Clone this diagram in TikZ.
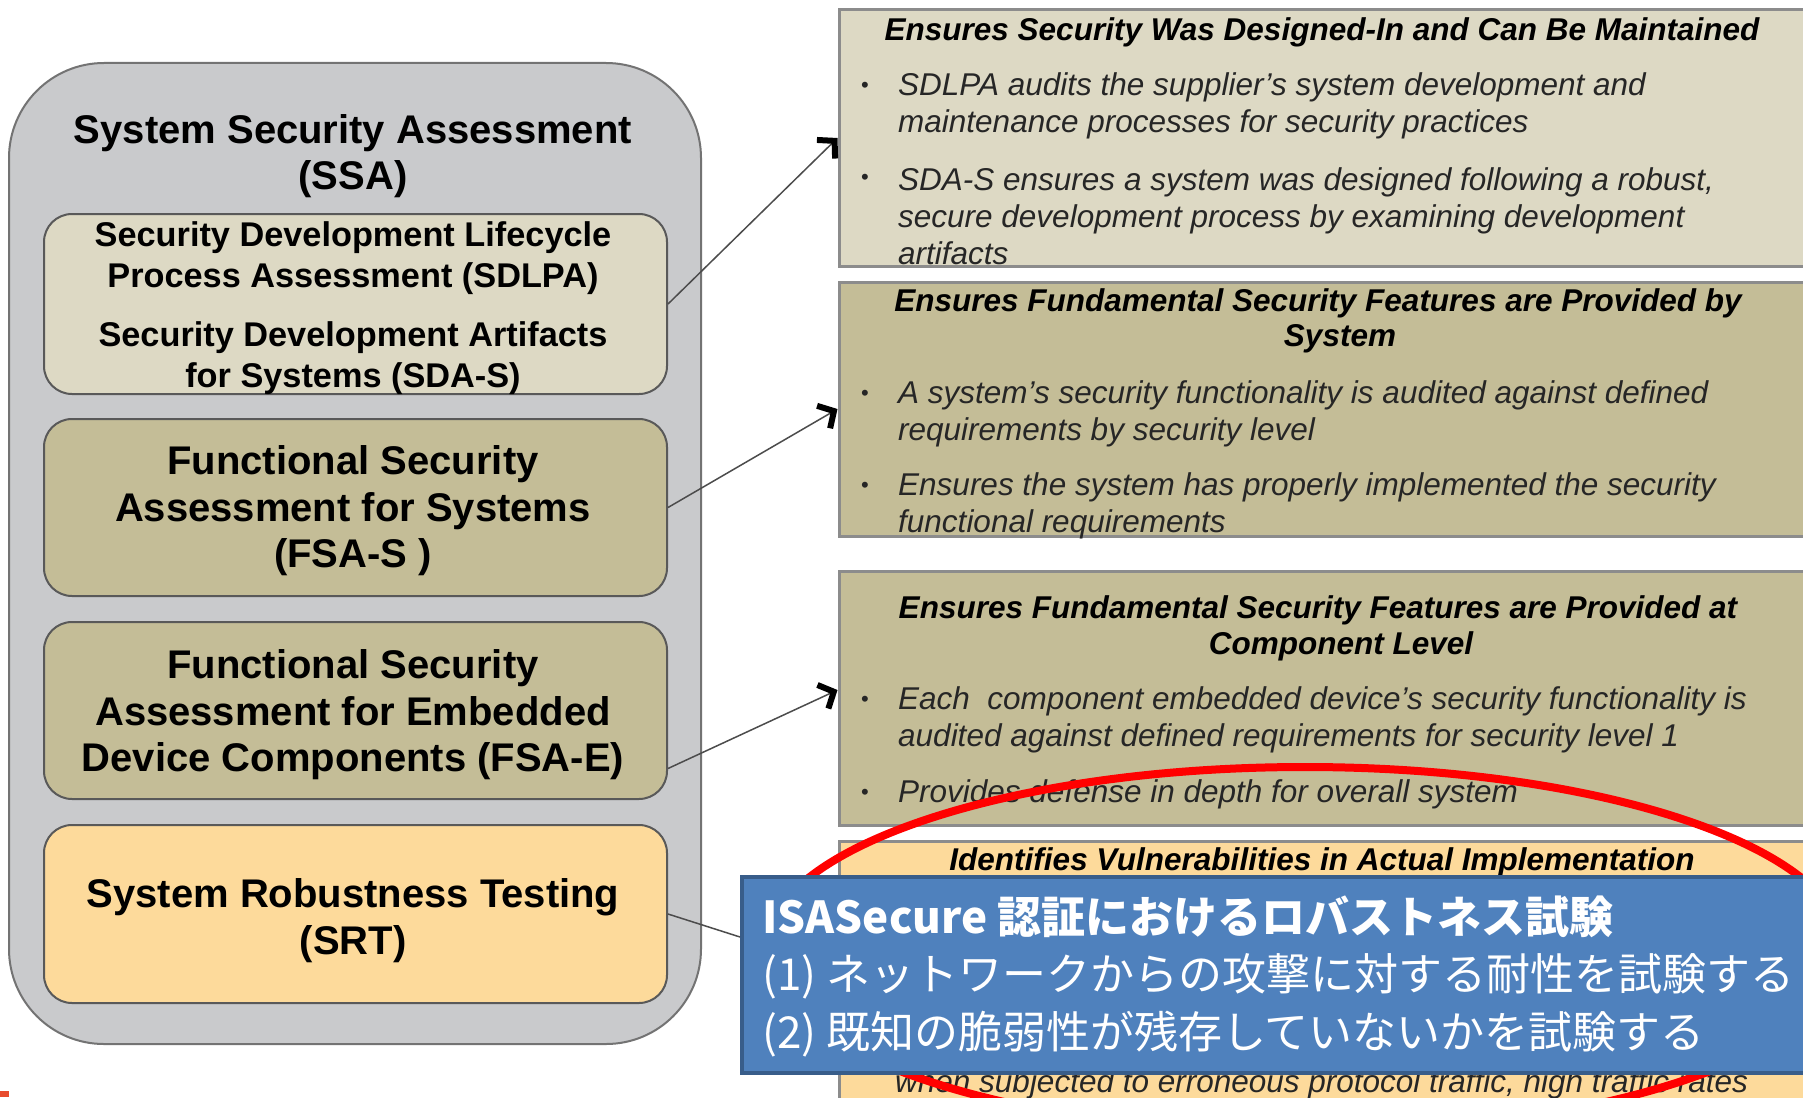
\documentclass[tikz,border=0pt]{standalone}
\usepackage{fontspec}
\setmainfont{Liberation Sans}
\newfontfamily\cjk{Noto Sans CJK JP}
\usetikzlibrary{arrows.meta}
\definecolor{ssagray}{HTML}{C9CACC}
\definecolor{lightkhaki}{HTML}{DDD9C4}
\definecolor{khaki}{HTML}{C4BD97}
\definecolor{peach}{HTML}{FDDA9B}
\definecolor{bluefill}{HTML}{4F81BD}
\definecolor{blueline}{HTML}{385D8A}
\definecolor{cornerred}{HTML}{E84C2E}
\begin{document}
\begin{tikzpicture}[x=1pt,y=-1pt,
  lbox/.style={draw=black!65, line width=2pt, rounded corners=28pt, minimum width=623pt},
  ltext/.style={align=center, font=\bfseries\fontsize{40}{46.5}\selectfont},
  rbox/.style={draw=black!45, line width=3pt, minimum width=976pt},
  rtitle/.style={font=\bfseries\itshape\fontsize{31.5}{36}\selectfont, inner sep=0pt},
  rbody/.style={font=\itshape\fontsize{31.5}{37}\selectfont, text=black!85, align=left, anchor=west, inner sep=0pt},
  bul/.style={font=\fontsize{22}{22}\selectfont, text=black!85, inner sep=0pt},
  conn/.style={draw=black!70, line width=1.5pt},
  arr/.style={conn, -{Straight Barb[length=12pt,width=26pt,line width=6pt,color=black]}}
]
\useasboundingbox (0,0) rectangle (1803,1097);
\clip (0,0) rectangle (1803,1097);
\fill[white] (0,0) rectangle (1803,1097);

% left outer container
\node[draw=black!55, line width=2pt, fill=ssagray, rounded corners=95pt,
  minimum width=692pt, minimum height=981pt] (ssa) at (355,553.5) {};
\node[font=\bfseries\fontsize{40}{46}\selectfont, align=center] (ssatitle) at (353,156.5)
  {System Security Assessment\\(SSA)};

\node[lbox, fill=lightkhaki, minimum height=180pt] (sdlpa) at (355.5,304) {};
\node[font=\bfseries\fontsize{34.3}{41}\selectfont, align=center] (sdlpatext) at (353,258.5)
  {Security Development Lifecycle\\Process Assessment (SDLPA)};
\node[font=\bfseries\fontsize{34.3}{41}\selectfont, align=center] (sdastext) at (353,358.5)
  {Security Development Artifacts\\for Systems (SDA-S)};

\node[lbox, fill=khaki, minimum height=177pt] (fsas) at (355.5,507.5) {};
\node[ltext] (fsastext) at (353,511)
  {Functional Security\\Assessment for Systems\\(FSA-S )};
\node[lbox, fill=khaki, minimum height=177pt] (fsae) at (355.5,710.5) {};
\node[ltext] (fsaetext) at (353,715)
  {Functional Security\\Assessment for Embedded\\Device Components (FSA-E)};
\node[lbox, fill=peach, minimum height=178pt] (srt) at (355.5,914) {};
\node[ltext] (srttext) at (353,920.5)
  {System Robustness Testing\\(SRT)};

% right boxes
\node[rbox, fill=lightkhaki, minimum height=256pt] (b1) at (1327,138) {};
\node[rtitle] (b1t) at (1322,32) {Ensures Security Was Designed-In and Can Be Maintained};
\node[bul] (b1d1) at (865,87) {•};
\node[rbody] (b1a) at (898,105.5) {SDLPA audits the supplier’s system development and\\maintenance processes for security practices};
\node[bul] (b1d2) at (865,179) {•};
\node[rbody] (b1b) at (898,216.5) {SDA-S ensures a system was designed following a robust,\\secure development process by examining development\\artifacts};

\node[rbox, fill=khaki, minimum height=254pt] (b2) at (1327,409) {};
\node[rtitle] (b2t1) at (1318,303) {Ensures Fundamental Security Features are Provided by};
\node[rtitle] (b2t2) at (1340,339) {System};
\node[bul] (b2d1) at (865,395) {•};
\node[rbody] (b2a) at (898,413.5) {A system’s security functionality is audited against defined\\requirements by security level};
\node[bul] (b2d2) at (865,487) {•};
\node[rbody] (b2b) at (898,506) {Ensures the system has properly implemented the security\\functional requirements};

\node[rbox, fill=khaki, minimum height=254pt] (b3) at (1327,698) {};
\node[rtitle] (b3t1) at (1318,610) {Ensures Fundamental Security Features are Provided at};
\node[rtitle] (b3t2) at (1341,646) {Component Level};
\node[bul] (b3d1) at (865,701) {•};
\node[rbody] (b3a) at (898,720) {Each\ \ component embedded device’s security functionality is\\audited against defined requirements for security level 1};
\node[bul] (b3d2) at (865,794) {•};
\node[rbody] (b3b) at (898,794) {Provides defense in depth for overall system};

\node[rbox, fill=peach, minimum height=269pt] (b4) at (1327,975.5) {};
\node[rtitle] (b4t) at (1322,862) {Identifies Vulnerabilities in Actual Implementation};
\node[rbody] (b4a) at (895,1084) {when subjected to erroneous protocol traffic, high traffic rates};

% connectors
\draw[arr] (sdlpa.east) -- (b1.west);
\draw[arr] (fsas.east) -- (b2.west);
\draw[arr] ([yshift=-58pt]fsae.east) -- ([yshift=8pt]b3.west);

% red highlight
\draw[red, line width=8pt] (1305,950) ellipse [x radius=540pt, y radius=183pt];

% blue callout
\node[draw=blueline, line width=4pt, fill=bluefill, minimum width=1068pt, minimum height=196pt] (blue) at (1276,975) {};
\draw[conn] (srt.east) -- ([yshift=38pt]blue.west);
\node[font=\cjk\fontsize{44}{57.5}\selectfont, text=white, align=left, anchor=west, inner sep=0pt] (bluetext) at (762,976)
  {{\bfseries ISASecure 認証におけるロバストネス試験}\\(1) ネットワークからの攻撃に対する耐性を試験する\\(2) 既知の脆弱性が残存していないかを試験する};

% corner mark
\fill[cornerred] (0,1091) rectangle (9,1097);
\end{tikzpicture}
\end{document}
